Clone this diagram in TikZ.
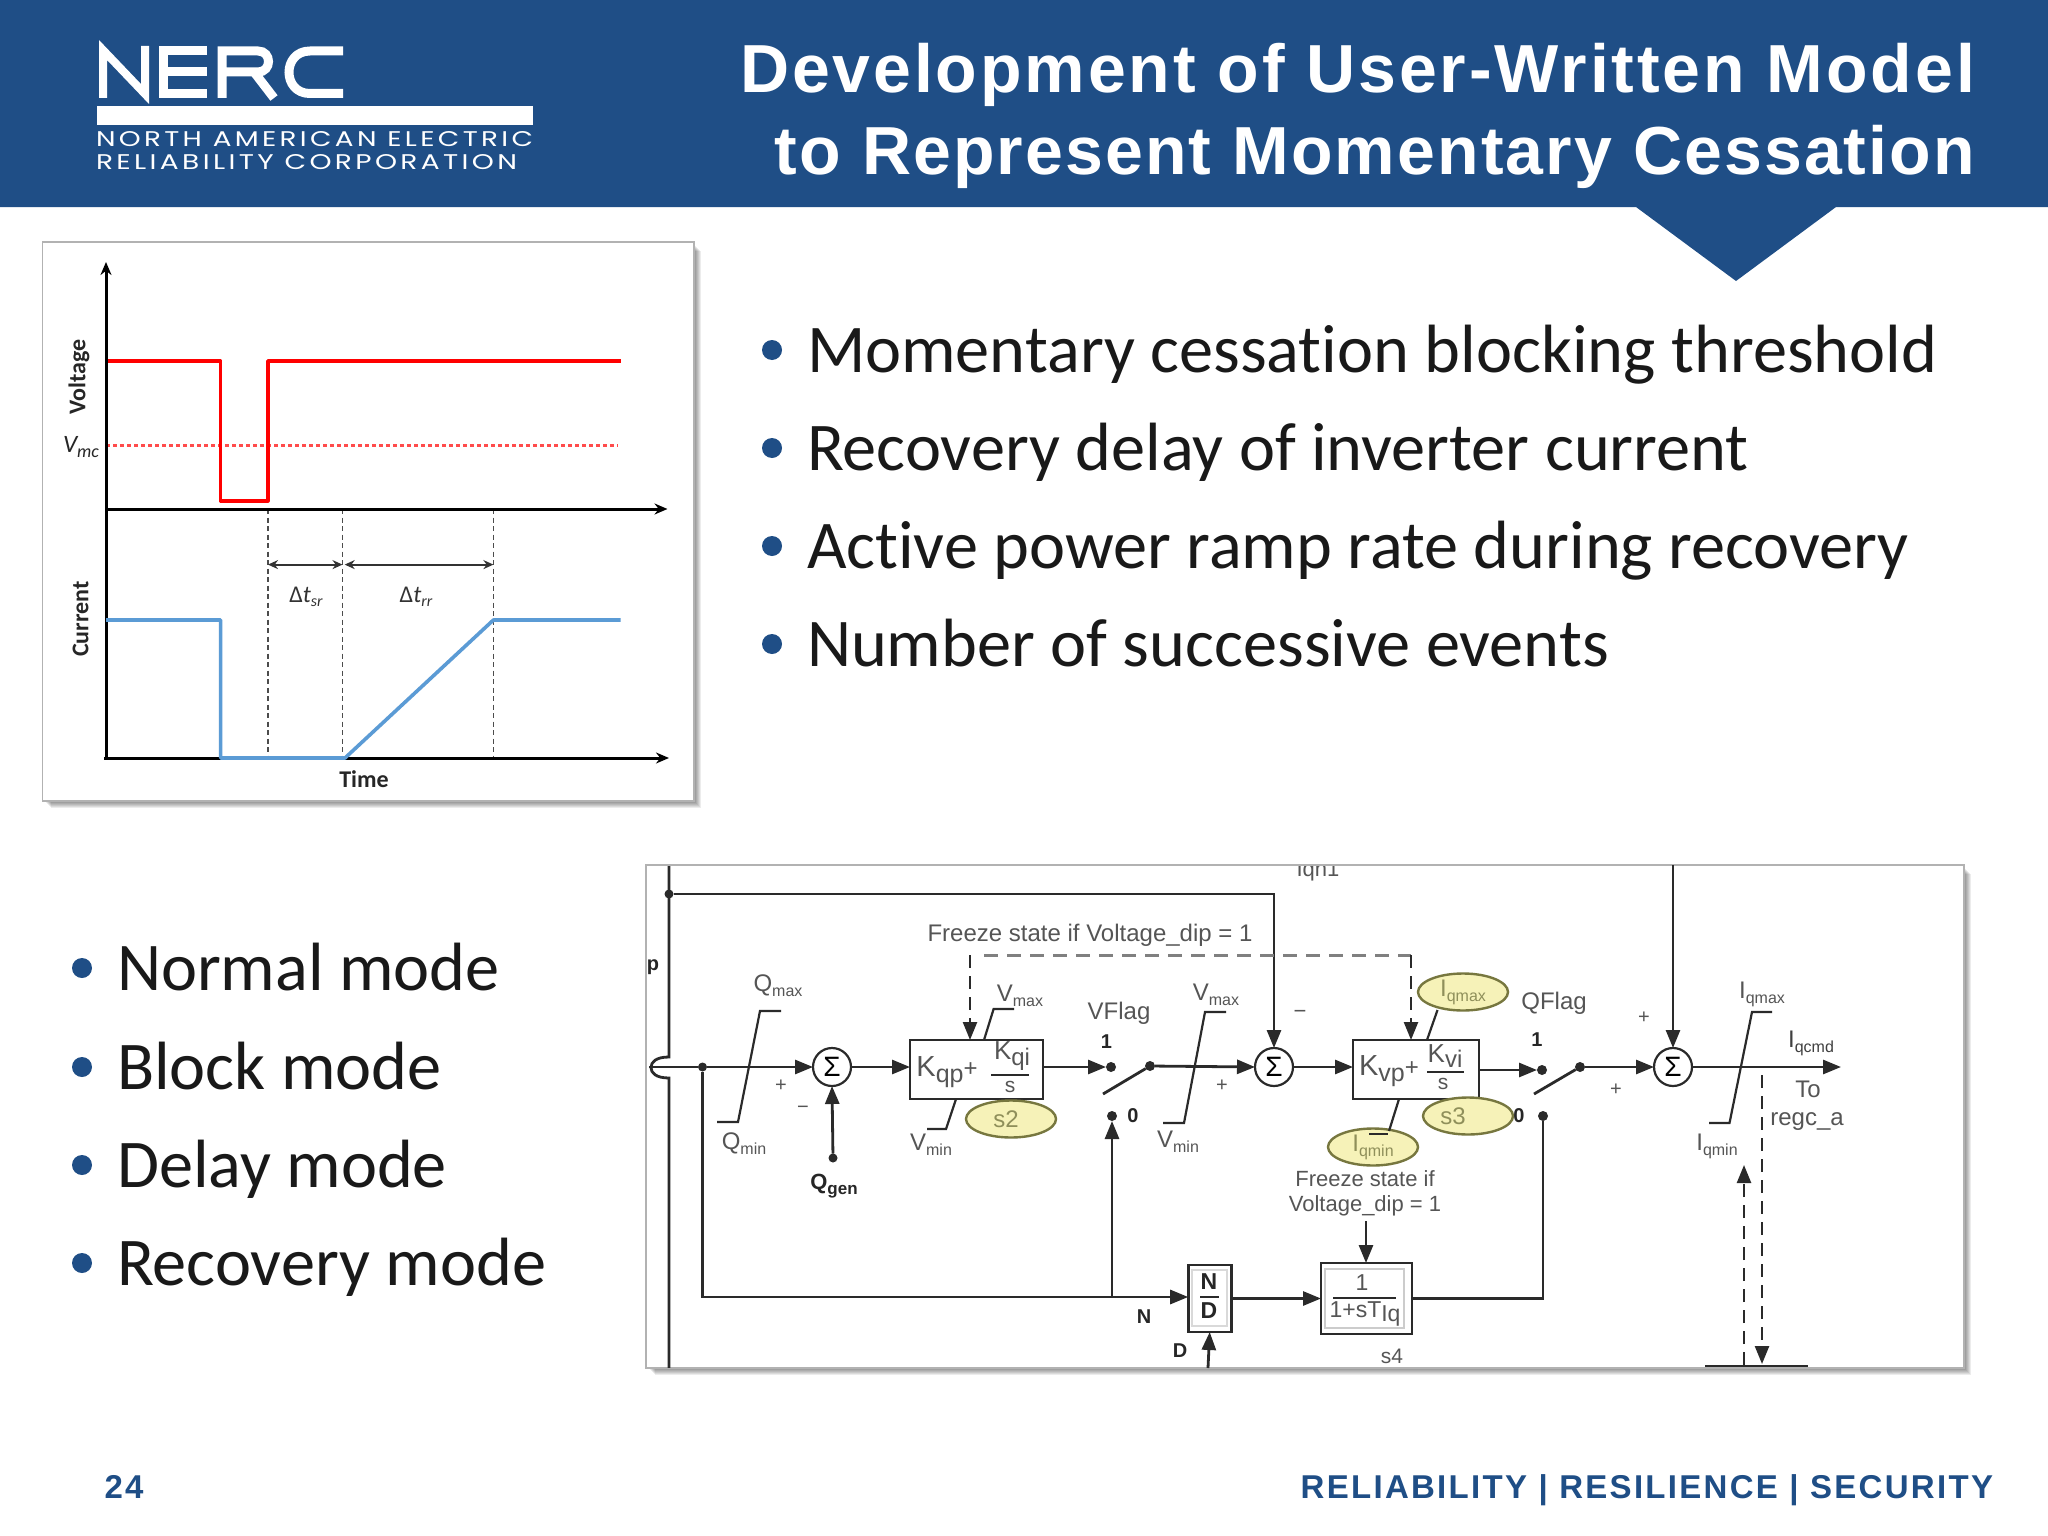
\documentclass[tikz,border=0pt]{standalone}
\usepackage{fontspec}
\usetikzlibrary{arrows.meta,shapes.geometric,calc}
\setmainfont{Liberation Sans}
\newfontfamily\carl[Ligatures=NoCommon]{Carlito}
\newfontfamily\titlefonta[LetterSpace=4.25]{Liberation Sans}
\newfontfamily\titlefontb[LetterSpace=3.1]{Liberation Sans}
\newfontfamily\footfont[LetterSpace=6.95]{Liberation Sans}
\newfontfamily\logofont[LetterSpace=12]{Poppins}
\newcommand\fs[1]{\fontsize{#1pt}{#1pt}\selectfont}
\newcommand\sbt[2]{\raisebox{-0.4ex}{\fs{#1}#2}}
\definecolor{nercblue}{HTML}{1F4E86}
\definecolor{lbl}{HTML}{555555}
\definecolor{ellfill}{HTML}{F6F2B8}
\definecolor{elldraw}{HTML}{77773F}
\definecolor{elltext}{HTML}{8F8F5A}
\definecolor{curblue}{HTML}{5B9BD5}
\definecolor{wire}{HTML}{2A2A2A}
\tikzset{
  every node/.style={inner sep=0pt,outer sep=0pt},
  tip/.style={-{Triangle[length=18pt,width=14pt]}},
  wirel/.style={draw=wire,line width=2.8pt},
  blockbox/.style={draw=wire,line width=2.8pt,fill=white},
  sumnode/.style={circle,draw=wire,line width=2.2pt,minimum size=38pt,fill=white,font=\fs{28}},
  ell/.style={ellipse,draw=elldraw,line width=2.4pt,fill=ellfill,minimum width=90pt,minimum height=37pt,text=elltext,font=\fs{24}},
  lab/.style={text=lbl,font=\fs{24}},
  blab/.style={text=black!85,font=\fs{20}\bfseries},
  junction/.style={circle,fill=wire,minimum size=10pt},
  dashk/.style={draw=wire,line width=2.4pt,dash pattern=on 13pt off 8pt},
  limiter/.style={draw=wire,line width=2.2pt},
  bullettext/.style={anchor=base west,font=\carl\fs{68.3},text=black!90},
  bulletdot/.style={circle,fill=nercblue,minimum size=20pt},
  panel/.style={draw=black!30,line width=1.5pt,fill=white},
  axis/.style={draw=black,line width=3pt,-{Stealth[length=13pt,width=11pt]}},
  clab/.style={font=\carl\bfseries\fs{24},text=black!85},
  ctip/.style={draw=black!80,line width=1.8pt,{Stealth[length=10pt,width=9pt]}-{Stealth[length=10pt,width=9pt]}},
  cdash/.style={draw=black!70,line width=1.4pt,dash pattern=on 5pt off 3.5pt},
}
\newcommand\softshadow[4]{\foreach \i in {1,...,7}{\fill[black,opacity=0.075] (#1+\i,#2+\i) rectangle (#3+\i,#4+\i);}}
\begin{document}
\begin{tikzpicture}[x=1pt,y=-1pt]
\useasboundingbox (0,0) rectangle (2048,1536);
\fill[white] (0,0) rectangle (2048,1536);
% header
\fill[nercblue] (0,0) -- (2048,0) -- (2048,207) -- (1836,207) -- (1736,281) -- (1636,207) -- (0,207) -- cycle;
% logo
\draw[white,line width=8pt,miter limit=10] (103,98) -- (103,50) -- (145,94) -- (145,46);
\draw[white,line width=9pt] (207,51) -- (163,51) -- (163,93.5) -- (207,93.5) (163,72) -- (207,72);
\draw[white,line width=9pt] (222,98) -- (222,51) -- (258,51) .. controls (272,51) and (272,72) .. (258,72) -- (226,72) (254,72) -- (274,98);
\draw[white,line width=9pt] (343,51) -- (310,51) .. controls (282,51) and (282,93.5) .. (310,93.5) -- (343,93.5);
\fill[white] (97,106) rectangle (533,125);
\node[anchor=west,text=white] (logo1) at (96,139) {\resizebox{437pt}{15pt}{\logofont NORTH AMERICAN ELECTRIC}};
\node[anchor=west,text=white] (logo2) at (96,162) {\resizebox{421pt}{15pt}{\logofont RELIABILITY CORPORATION}};
% title
\node[anchor=base east,text=white,font=\titlefonta\bfseries\fs{68}] (t1) at (1975,93) {Development of User-Written Model};
\node[anchor=base east,text=white,font=\titlefontb\bfseries\fs{68}] (t2) at (1975,175) {to Represent Momentary Cessation};
% bullets top
\foreach \n/\y/\t in {a/372/Momentary cessation blocking threshold,b/470/Recovery delay of inverter current,c/568/Active power ramp rate during recovery,d/666/Number of successive events}{
  \node[bulletdot] (dot\n) at (772,\y-22) {};
  \node[bullettext] (bul\n) at (807,\y) {\t};
}
% bullets bottom
\foreach \n/\y/\t in {e/990/Normal mode,f/1089/Block mode,g/1187/Delay mode,h/1285/Recovery mode}{
  \node[bulletdot] (dot\n) at (82,\y-22) {};
  \node[bullettext] (bul\n) at (117,\y) {\t};
}
% footer
\node[text=nercblue,font=\footfont\bfseries\fs{33}] (pg) at (124,1487) {24};
\node[anchor=east,text=nercblue,font=\footfont\bfseries\fs{33}] (foot) at (1993,1490) {RELIABILITY | RESILIENCE | SECURITY};
% chart panel
\softshadow{44}{244}{694}{801}
\draw[panel] (42.5,242) rectangle (694,801);
\draw[red!70,line width=2.6pt,dash pattern=on 4pt off 3pt] (106,445.5) -- (618,445.5);
\draw[red,line width=3.6pt,line join=round] (106,361) -- (220.6,361) -- (220.6,500.7) -- (268,500.7) -- (268,361) -- (620.6,361);
\draw[cdash] (268,509) -- (268,758);
\draw[cdash] (342.5,509) -- (342.5,758);
\draw[cdash] (493.4,509) -- (493.4,758);
\draw[axis] (106,758) -- (106,262);
\draw[axis] (106,509) -- (667.5,509);
\draw[axis] (104,758) -- (669,758);
\draw[curblue,line width=3.6pt,line join=round] (106,620) -- (220.6,620) -- (220.6,758) -- (345,758) -- (493.4,620) -- (620.6,620);
\draw[ctip] (268,564.6) -- (342.5,564.6);
\draw[ctip] (344.7,564.6) -- (493.4,564.6);
\node[clab,rotate=90] (cv) at (79,377) {Voltage};
\node[clab,rotate=90] (ci) at (80.5,619) {Current};
\node[font=\carl\itshape\fs{25},text=black!85] (vmc) at (81,447) {V\sbt{18}{mc}};
\node[clab] (ct) at (364,779) {Time};
\node[font=\carl\fs{24},text=black!80] (dsr) at (306,597) {Δ\textit{t}\sbt{16}{\itshape sr}};
\node[font=\carl\fs{24},text=black!80] (drr) at (416,597) {Δ\textit{t}\sbt{16}{\itshape rr}};
% block diagram panel
\softshadow{648}{867}{1964}{1368}
\draw[panel] (646,865) rectangle (1964,1368);
\begin{scope}
\clip (647,866) rectangle (1963,1367);
\node[lab,font=\fs{22}] (iqh) at (1318,871) {Iqh1};
\coordinate (vtop) at (669,865);
\coordinate (hopa) at (669,1057);
\coordinate (hopb) at (669,1078);
\coordinate (vbot) at (669,1368);
\coordinate (input) at (649,1067);
\node[junction,minimum size=9pt] (jtop) at (669,894) {};
\coordinate (barl) at (1705,1366);
\coordinate (barr) at (1808,1366);
\draw[wirel] (vtop) -- (hopa) .. controls (656,1057) and (651,1062) .. (651,1067.5) .. controls (651,1073) and (656,1078) .. (hopb) -- (vbot);
\draw[wirel] (barl) -- (barr);
\end{scope}
\coordinate (upper3) at (1673,865);
\node[junction,minimum size=9pt] (jin) at (702.5,1067) {};
\node[blab] (pl) at (653,967) {p};
% main nodes
\node[sumnode] (s1) at (832,1067) {Σ};
\node[sumnode] (s2) at (1274,1067) {Σ};
\node[sumnode] (s3) at (1673,1067) {Σ};
\node[blockbox,minimum width=133pt,minimum height=59pt] (kqp) at (976.5,1069.5) {};
\node[blockbox,minimum width=126pt,minimum height=59pt] (kvp) at (1416,1069.5) {};
\node[blockbox,minimum width=91pt,minimum height=71pt] (lag) at (1366.5,1298.5) {};
\node[blockbox,minimum width=43pt,minimum height=67pt] (nd) at (1209.7,1298.5) {};
\draw[black!20,line width=1.2pt] (1325,1269) rectangle (1404,1328);
\draw[black!15,line width=1.2pt] (1192,1270) rectangle (1227,1326);
% box text
\node[lab,font=\fs{29}] (kqpt) at (947,1072) {K\sbt{25}{qp}\fs{24}+};
\node[lab,font=\fs{26}] (kqin) at (1012,1056) {K\sbt{24}{qi}};
\draw[wire,line width=2.4pt] (991,1075) -- (1029,1075);
\node[lab,font=\fs{21}] (kqid) at (1010,1087) {s};
\node[lab,font=\fs{29}] (kvpt) at (1389,1071) {K\sbt{25}{vp}\fs{24}+};
\node[lab,font=\fs{26}] (kvin) at (1445,1056) {K\sbt{24}{vi}};
\draw[wire,line width=2.4pt] (1427,1072) -- (1464,1072);
\node[lab,font=\fs{21}] (kvid) at (1443,1084) {s};
\node[lab,font=\fs{23}] (lagn) at (1362,1283) {1};
\draw[wire,line width=2.8pt] (1333,1298) -- (1396,1298);
\node[lab,font=\fs{23}] (lagd) at (1365,1314) {1+sT\sbt{23}{Iq}};
\node[blab,font=\fs{23}\bfseries] (ndn) at (1209,1282) {N};
\draw[wire,line width=2.8pt] (1200,1297) -- (1219,1297);
\node[blab,font=\fs{23}\bfseries] (ndd) at (1209,1311) {D};
% ellipses
\node[ell] (e2) at (1011,1119) {\hspace*{-10pt}s2};
\node[ell] (e3) at (1468,1116) {\hspace*{-30pt}s3};
\node[ell] (eimax) at (1463,992) {I\sbt{16}{qmax}};
\node[ell] (eimin) at (1373,1147) {I\sbt{16}{qmin}};
% switches
\node[junction] (v1) at (1111,1067) {};
\node[junction] (v2) at (1150,1066) {};
\node[junction] (v0) at (1112,1116) {};
\coordinate (vpiv) at (1103,1094);
\node[junction] (q1) at (1542,1070) {};
\node[junction] (q2) at (1580,1067) {};
\node[junction] (q0) at (1543,1116) {};
\coordinate (qpiv) at (1534,1094);
\draw[wirel] (v2) -- (vpiv);
\draw[wirel] (q2) -- (qpiv);
% connectors
\coordinate (jbot) at (702.5,1297);
\coordinate (jflag) at (1112,1297);
\node[junction,minimum size=9pt] (qg) at (833,1158) {};
\coordinate (fz1) at (970,955);
\coordinate (fzc) at (1411,955);
\coordinate (ft) at (1366,1221);
\coordinate (dbot) at (1208,1368);
\coordinate (out) at (1841,1067);
\coordinate (dash1a) at (1762,1075);
\coordinate (dash1b) at (1762,1364);
\coordinate (dash2a) at (1744,1365);
\coordinate (dash2b) at (1744,1165);
\draw[wirel] (input) -- (jin);
\draw[wirel,tip] (jin) -- (s1.west);
\draw[wirel,tip] (s1.east) -- (kqp.west |- s1.east);
\draw[wirel,tip] (qg) -- (s1.south);
\draw[wirel,tip] (kqp.east |- v1) -- (v1.west);
\draw[wirel,tip] (v2) -- (s2.west);
\draw[wirel,tip] (s2.east) -- (kvp.west |- s2.east);
\draw[wirel,tip] (kvp.east |- q1) -- (q1.west);
\draw[wirel,tip] (q2) -- (s3.west);
\draw[wirel,tip] (s3.east) -- (out);
\draw[wirel,tip] (jtop) -| (s2.north);
\draw[wirel,tip] (upper3) -- (s3.north);
\draw[wirel] (jin) -- (jbot) -- (jflag);
\draw[wirel,tip] (jflag) -- (nd.west |- jflag);
\draw[wirel,tip] (jflag) -- (v0.south);
\draw[wirel,tip] (nd.east) -- (lag.west);
\draw[wirel] (lag.east) -| (q0.south);
\draw[wirel,tip] (dbot) -- (nd.south);
\draw[wirel,tip] (ft) -- (ft |- lag.north);
\draw[dashk,tip] (fz1) -- (fz1 |- kqp.north);
\draw[draw=black!50,line width=3pt,dash pattern=on 14pt off 9pt] (984,955) -- (fzc);
\draw[dashk,tip] (fzc) -- (fzc |- kvp.north);
\draw[dashk,tip] (dash1a) -- (dash1b);
\draw[dashk,tip] (dash2a) -- (dash2b);
\draw[limiter] (1437.5,1010) -- (1427,1040);
\draw[limiter] (1399,1099) -- (1389,1131);
\draw[limiter] (1369,1134) -- (1388,1134);
% limiters
\draw[limiter] (717,1122) -- (738,1122) -- (760,1011) -- (781,1011);
\draw[limiter] (984,1040) -- (993.6,1009) -- (1014,1009);
\draw[limiter] (956,1099) -- (946,1129) -- (927,1129);
\draw[limiter] (1163,1123) -- (1184,1123) -- (1205,1012) -- (1226,1012);
\draw[limiter] (1709,1123) -- (1729.5,1123) -- (1752,1012) -- (1772,1012);
% labels
\node[lab] (lqmax) at (778,986) {Q\sbt{16}{max}};
\node[lab] (lqmin) at (744,1144) {Q\sbt{16}{min}};
\node[lab,font=\fs{20}] (p1) at (781,1086) {+};
\node[lab,font=\fs{20}] (m1) at (803,1110) {−};
\node[blab,font=\fs{22}\bfseries] (lqg) at (834,1186) {Q\sbt{17}{gen}};
\node[lab] (lvmax1) at (1020,996) {V\sbt{16}{max}};
\node[lab] (lvmin1) at (931,1145) {V\sbt{16}{min}};
\node[lab] (freeze) at (1090,935) {Freeze state if Voltage\_dip = 1};
\node[lab] (vflag) at (1119,1013) {VFlag};
\node[blab] (v1t) at (1106.5,1042) {1};
\node[blab] (v0t) at (1133,1116) {0};
\node[lab] (lvmax2) at (1216,995) {V\sbt{16}{max}};
\node[lab] (lvmin2) at (1178,1142) {V\sbt{16}{min}};
\node[lab,font=\fs{20}] (p2) at (1222,1086) {+};
\node[lab,font=\fs{22}] (m2) at (1300,1014) {−};
\node[lab] (qflag) at (1554,1003) {QFlag};
\node[blab] (q1t) at (1537,1040) {1};
\node[blab] (q0t) at (1519,1116) {0};
\node[lab,font=\fs{20}] (p3) at (1616,1090) {+};
\node[lab,font=\fs{20}] (p4) at (1644,1018) {+};
\node[lab] (liqmax) at (1762,994) {I\sbt{16}{qmax}};
\node[lab] (liqmin) at (1717,1146) {I\sbt{16}{qmin}};
\node[lab,text=black!75] (liqcmd) at (1811,1043) {I\sbt{16}{qcmd}};
\node[lab] (lto) at (1808,1089) {To};
\node[lab] (lreg) at (1807,1122) {regc\_a};
\node[lab,font=\fs{22}] (lf1) at (1365,1179) {Freeze state if};
\node[lab,font=\fs{22}] (lf2) at (1365,1206) {Voltage\_dip = 1};
\node[lab,font=\fs{21}] (ls4) at (1392,1356) {s4};
\node[blab] (ln) at (1144,1317) {N};
\node[blab] (ld) at (1180,1351) {D};
\end{tikzpicture}
\end{document}
